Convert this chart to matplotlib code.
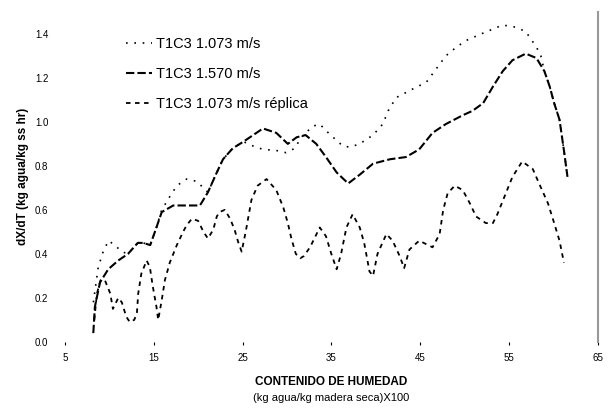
import numpy as np
import matplotlib.pyplot as plt

plt.rcParams['font.family'] = ['Liberation Sans', 'DejaVu Sans']

# T1C3 1.570 m/s (curva media)
x_a = [8.19, 8.37, 8.94, 9.87, 11.0, 12.1, 13.2, 13.8, 14.6, 15.3,
       15.9, 17.2, 20.2, 21.1, 22.1, 22.8, 23.9, 25.1, 26.2, 27.3,
       28.8, 30.1, 31.1, 32.1, 33.3, 34.4, 35.6, 36.9, 38.2, 39.7,
       41.6, 43.4, 44.9, 46.4, 47.9, 49.8, 50.9, 52.1, 53.2, 54.3,
       55.4, 56.9, 58.1, 59.0, 59.6, 60.1, 60.7, 61.2, 61.6]
y_a = [0.04, 0.16, 0.27, 0.33, 0.37, 0.40, 0.45, 0.45, 0.44, 0.52,
       0.59, 0.62, 0.62, 0.68, 0.77, 0.83, 0.88, 0.91, 0.94, 0.97,
       0.95, 0.90, 0.93, 0.94, 0.90, 0.84, 0.77, 0.72, 0.76, 0.81,
       0.83, 0.84, 0.875, 0.95, 0.99, 1.03, 1.05, 1.085, 1.16, 1.23,
       1.28, 1.31, 1.29, 1.23, 1.16, 1.085, 1.01, 0.87, 0.75]

# T1C3 1.073 m/s (curva superior)
x_b = [8.2, 8.4, 8.75, 9.3, 9.9, 10.6, 11.4, 12.1, 13.2, 13.8,
       14.6, 15.3, 15.9, 16.8, 17.6, 18.7, 19.8, 20.6, 21.1, 22.1,
       22.8, 23.9, 25.1, 26.2, 27.3, 28.8, 29.9, 30.9, 31.6, 32.9,
       33.7, 34.4, 35.2, 36.3, 37.1, 38.2, 39.7, 40.8, 41.4, 42.3,
       44.2, 45.7, 46.8, 47.9, 49.1, 50.2, 51.9, 54.3, 55.8, 56.9,
       58.1, 58.6, 59.0, 59.6, 60.1, 60.7, 61.2, 61.6]
y_b = [0.18, 0.24, 0.34, 0.41, 0.46, 0.44, 0.41, 0.40, 0.45, 0.45,
       0.44, 0.52, 0.60, 0.66, 0.71, 0.74, 0.73, 0.70, 0.68, 0.77,
       0.83, 0.88, 0.91, 0.89, 0.875, 0.87, 0.86, 0.88, 0.93, 0.98,
       0.99, 0.96, 0.93, 0.89, 0.885, 0.90, 0.94, 0.99, 1.05, 1.11,
       1.15, 1.18, 1.24, 1.30, 1.34, 1.37, 1.40, 1.44, 1.43, 1.41,
       1.34, 1.30, 1.23, 1.16, 1.085, 1.01, 0.87, 0.75]

# T1C3 1.073 m/s replica (curva inferior)
x_c = [8.3, 8.6, 9.0, 9.5, 10.1, 10.4, 11.0, 11.4, 11.9, 12.3,
       12.8, 13.1, 13.25, 13.6, 14.2, 14.56, 14.9, 15.3, 15.5, 15.9,
       16.25, 16.8, 17.6, 18.3, 18.7, 19.3, 20.0, 20.6, 21.1, 21.7,
       22.1, 22.4, 23.0, 23.6, 24.1, 24.5, 24.9, 25.4, 26.0, 26.7,
       27.7, 28.8, 29.6, 30.1, 30.5, 31.0, 31.5, 31.9, 32.6, 33.7,
       34.4, 35.0, 35.6, 36.1, 36.7, 37.4, 38.2, 38.7, 39.3, 39.7,
       40.2, 41.2, 41.9, 42.7, 43.2, 43.8, 44.9, 46.4, 47.2, 47.6,
       48.1, 48.9, 49.8, 50.6, 51.3, 52.4, 53.2, 53.7, 54.5, 55.4,
       56.5, 57.7, 58.4, 59.4, 60.1, 60.7, 61.2]
y_c = [0.10, 0.22, 0.28, 0.28, 0.22, 0.15, 0.20, 0.18, 0.115, 0.09,
       0.10, 0.13, 0.22, 0.31, 0.37, 0.34, 0.25, 0.16, 0.10, 0.19,
       0.28, 0.36, 0.44, 0.50, 0.53, 0.56, 0.55, 0.50, 0.47, 0.51,
       0.57, 0.59, 0.60, 0.56, 0.51, 0.455, 0.41, 0.51, 0.645, 0.71,
       0.74, 0.69, 0.61, 0.54, 0.47, 0.40, 0.38, 0.39, 0.43, 0.52,
       0.48, 0.40, 0.33, 0.40, 0.52, 0.58, 0.52, 0.45, 0.32, 0.30,
       0.40, 0.49, 0.46, 0.39, 0.335, 0.42, 0.46, 0.43, 0.49, 0.60,
       0.675, 0.71, 0.69, 0.63, 0.57, 0.54, 0.54, 0.58, 0.66, 0.75,
       0.82, 0.785, 0.72, 0.63, 0.54, 0.46, 0.36]

x_ticks = [5, 15, 25, 35, 45, 55, 65]
y_ticks = [0.0, 0.2, 0.4, 0.6, 0.8, 1.0, 1.2, 1.4]

fig = plt.figure(figsize=(6.13, 4.08), dpi=100)
ax = fig.add_axes([0.106, 0.162, 0.869, 0.809])

l1, = ax.plot(x_b, y_b, color='black', lw=1.2, linestyle=(0, (1, 4)))
l2, = ax.plot(x_a, y_a, color='black', lw=1.5, linestyle=(0, (4, 1.5)))
l3, = ax.plot(x_c, y_c, color='black', lw=1.3, linestyle=(0, (2.5, 2.5)))

ax.set_xlim(5, 65)
ax.set_ylim(0, 1.5)
ax.set_xticks(x_ticks)
ax.set_yticks(y_ticks)
ax.set_yticklabels(['%.1f' % v for v in y_ticks])
ax.tick_params(axis='y', length=0, pad=12, labelsize=7)
ax.tick_params(axis='x', length=2, pad=6, labelsize=7)

for s in ['left', 'top', 'bottom']:
    ax.spines[s].set_visible(False)
ax.spines['right'].set_color('#999999')
ax.spines['right'].set_linewidth(1.5)

ax.set_xlabel('CONTENIDO DE HUMEDAD', fontsize=8.5, fontweight='bold',
              labelpad=9)
ax.text(0.5, -0.17, '(kg agua/kg madera seca)X100', transform=ax.transAxes,
        ha='center', va='center', fontsize=8)
ax.set_ylabel('dX/dT (kg agua/kg ss hr)', fontsize=8.5, fontweight='bold',
              labelpad=4)

fig.legend([l1, l2, l3],
           ['T1C3 1.073 m/s', 'T1C3 1.570 m/s', 'T1C3 1.073 m/s réplica'],
           loc='upper left', bbox_to_anchor=(0.205, 0.91), frameon=False,
           fontsize=10.5, handlelength=1.8, handletextpad=0.3, labelspacing=1.1,
           borderpad=0, borderaxespad=0)

fig.savefig('out.png', dpi=100)
